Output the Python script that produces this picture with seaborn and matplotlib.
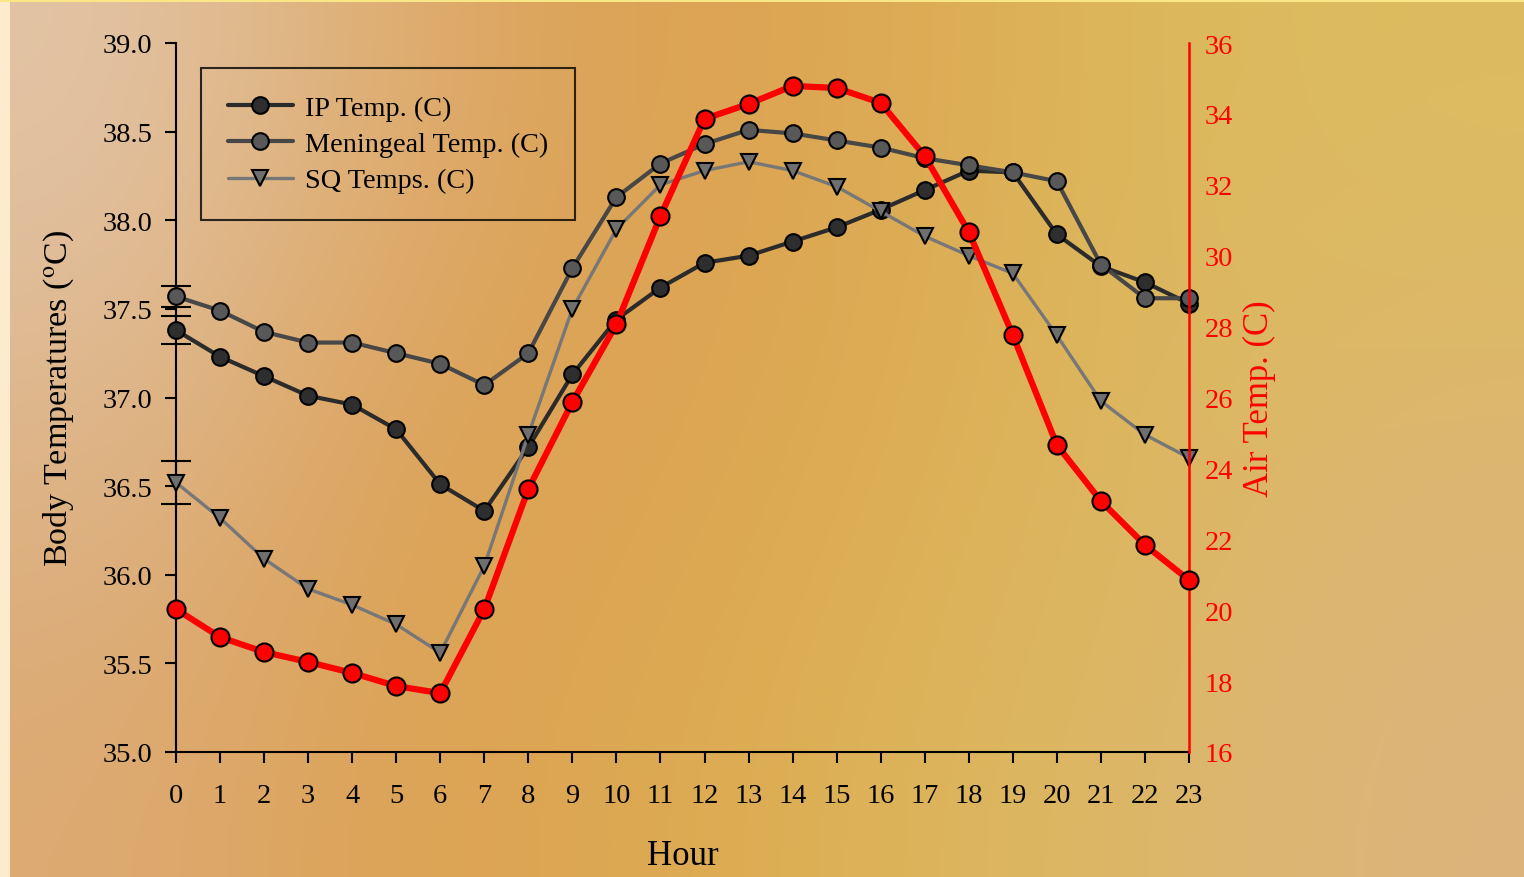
import numpy as np
import pandas as pd
import matplotlib
matplotlib.use("Agg")
import matplotlib.pyplot as plt
from matplotlib.patches import Rectangle
import seaborn as sns

# ---- data -------------------------------------------------------------
hours = list(range(24))
ip_temp = [37.38, 37.23, 37.12, 37.01, 36.96, 36.82, 36.51, 36.36, 36.72, 37.13,
           37.44, 37.62, 37.76, 37.80, 37.88, 37.96, 38.06, 38.17, 38.28, 38.27,
           37.92, 37.74, 37.65, 37.53]
meningeal_temp = [37.57, 37.49, 37.37, 37.31, 37.31, 37.25, 37.19, 37.07, 37.25, 37.73,
                  38.13, 38.32, 38.43, 38.51, 38.49, 38.45, 38.41, 38.35, 38.31, 38.27,
                  38.22, 37.75, 37.56, 37.56]
sq_temp = [36.52, 36.32, 36.09, 35.92, 35.83, 35.72, 35.56, 36.05, 36.79, 37.50,
           37.95, 38.20, 38.28, 38.33, 38.28, 38.19, 38.05, 37.91, 37.80, 37.70,
           37.35, 36.98, 36.79, 36.66]
air_temp = [20.03, 19.24, 18.82, 18.54, 18.23, 17.86, 17.66, 20.03, 23.42, 25.87,
            28.07, 31.12, 33.86, 34.28, 34.79, 34.73, 34.31, 32.81, 30.67, 27.76,
            24.66, 23.08, 21.84, 20.85]

# spread of the three body series at hour 0
ip_err0 = 0.08
meningeal_err0 = 0.06
sq_err0 = 0.12

body_ticks = [35.0, 35.5, 36.0, 36.5, 37.0, 37.5, 38.0, 38.5, 39.0]
air_ticks = [16, 18, 20, 22, 24, 26, 28, 30, 32, 34, 36]

series_names = ["IP Temp. (C)", "Meningeal Temp. (C)", "SQ Temps. (C)"]

df = pd.DataFrame({
    "Hour": hours,
    series_names[0]: ip_temp,
    series_names[1]: meningeal_temp,
    series_names[2]: sq_temp,
    "Air": air_temp,
})

# ---- style ------------------------------------------------------------
sns.set_style("ticks")
plt.rcParams["font.family"] = ["Liberation Serif", "DejaVu Serif"]
plt.rcParams["mathtext.fontset"] = "stix"
for key in ["text.color", "axes.labelcolor", "xtick.color", "ytick.color"]:
    plt.rcParams[key] = "black"

fig = plt.figure(figsize=(15.24, 8.78), dpi=100)

# warm gradient backdrop
bg_colors = np.array([
    [(226, 196, 166), (222, 174, 115), (220, 160, 82), (220, 170, 84), (220, 184, 92), (221, 188, 96)],
    [(222, 182, 140), (220, 163, 92), (220, 162, 80), (220, 174, 84), (221, 184, 95), (220, 182, 112)],
    [(220, 170, 115), (220, 162, 85), (220, 168, 80), (220, 180, 88), (220, 184, 104), (220, 180, 125)],
], dtype=float) / 255.0
bg = fig.add_axes([0, 0, 1, 1], zorder=-10)
bg.imshow(bg_colors, extent=[0, 1, 0, 1], aspect="auto", interpolation="bicubic")
bg.set_xlim(0, 1)
bg.set_ylim(0, 1)
bg.axis("off")
bg.add_patch(Rectangle((0, 0), 10 / 1524, 1, color=(0.99, 0.92, 0.80), lw=0))
bg.add_patch(Rectangle((0, 1 - 3 / 878), 1, 3 / 878, color=(0.98, 0.90, 0.52), lw=0))

ax = fig.add_axes([176 / 1524, 1 - 753 / 878, 1013 / 1524, 709 / 878])
ax.patch.set_alpha(0)

styles = [
    dict(color="#2b2b2b", marker="o", mfc="#2e2e2e", ms=12, lw=3.0),
    dict(color="#474747", marker="o", mfc="#585858", ms=12, lw=3.0),
    dict(color="#777777", marker="v", mfc="#6f6f6f", ms=12, lw=2.4),
]
handles = []
for name, st in zip(series_names, styles):
    sns.lineplot(data=df, x="Hour", y=name, ax=ax, color=st["color"], marker=st["marker"],
                 markersize=st["ms"], markerfacecolor=st["mfc"], markeredgecolor="black",
                 markeredgewidth=1.5, linewidth=st["lw"], zorder=3)
    line = ax.lines[-1]
    line.set_clip_on(False)
    handles.append(line)

# hour-0 spread bars
for vals, err in [(ip_temp, ip_err0), (meningeal_temp, meningeal_err0), (sq_temp, sq_err0)]:
    ax.errorbar([hours[0]], [vals[0]], yerr=[err], fmt="none", ecolor="black",
                elinewidth=1.5, capsize=11, capthick=1.5, zorder=2, clip_on=False)

ax.set_xlim(0, 23)
ax.set_ylim(35.0, 39.0)
ax.set_xticks(hours)
ax.set_yticks(body_ticks)
ax.set_yticklabels([f"{t:.1f}" for t in body_ticks])
ax.tick_params(axis="both", direction="out", length=8, width=1.5, colors="black",
               labelsize=20.5)
ax.tick_params(axis="y", pad=9)
ax.tick_params(axis="x", pad=14)
for side in ["top", "right"]:
    ax.spines[side].set_visible(False)
for side in ["left", "bottom"]:
    ax.spines[side].set_linewidth(1.5)
    ax.spines[side].set_color("black")

ax.set_xlabel("Hour", fontsize=25, labelpad=23)
ax.set_ylabel(r"Body Temperatures ($^{\rm o}$C)", fontsize=24.5, labelpad=19)

leg = ax.legend(handles, series_names, loc="upper left",
                bbox_to_anchor=(25 / 1013, 1 - 25 / 709), borderaxespad=0,
                fontsize=20.3, frameon=True, fancybox=False, handlelength=2.3,
                handletextpad=0.45, labelspacing=0.38, borderpad=0.95)
leg.get_frame().set_edgecolor("black")
leg.get_frame().set_linewidth(1.5)
leg.get_frame().set_facecolor("none")

# air temperature on its own scale
ax2 = ax.twinx()
ax2.patch.set_alpha(0)
sns.lineplot(x=hours, y=air_temp, ax=ax2, color="#ff0000", marker="o", markersize=13,
             markerfacecolor="#ff0000", markeredgecolor="black", markeredgewidth=1.5,
             linewidth=4.5, zorder=4)
ax2.lines[-1].set_clip_on(False)
ax2.set_ylim(16, 36)
ax2.set_yticks(air_ticks)
ax2.tick_params(axis="y", length=0, pad=11, labelsize=20.5, labelcolor="#ff0000")
for side in ["top", "left", "bottom"]:
    ax2.spines[side].set_visible(False)
ax2.spines["right"].set_color("#ff0000")
ax2.spines["right"].set_linewidth(1.8)
ax2.set_ylabel("Air Temp. (C)", fontsize=25, color="#ff0000", labelpad=7)

fig.savefig("out.png", dpi=100)
